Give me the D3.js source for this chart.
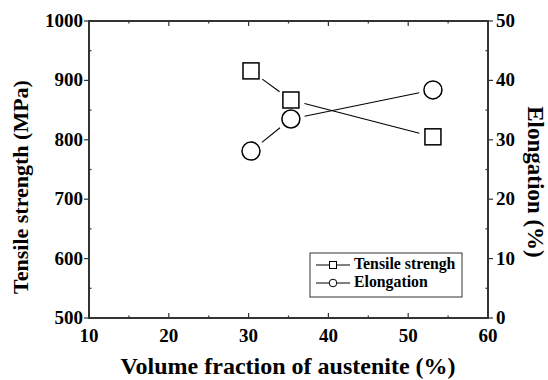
<!DOCTYPE html>
<html>
<head>
<meta charset="utf-8">
<script src="https://cdn.jsdelivr.net/npm/d3@7"></script>
<style>
  body { margin: 0; background: #fff; }
</style>
</head>
<body>
<script>
const fraction = [30.3, 35.3, 53.1];
const tensile = [916, 867, 805];
const elongation = [28.1, 33.5, 38.4];
const xTicks = [10, 20, 30, 40, 50, 60];
const yLeftTicks = [500, 600, 700, 800, 900, 1000];
const yRightTicks = [0, 10, 20, 30, 40, 50];

const w = 548, h = 380;
const pLeft = 89, pRight = 488, pTop = 21, pBottom = 318;
const FONT = '"Liberation Serif", "Times New Roman", Times, serif';

const svg = d3.select('body').append('svg')
  .attr('width', w).attr('height', h)
  .attr('font-family', FONT).attr('font-weight', 700);

const x = d3.scaleLinear().domain([10, 60]).range([pLeft, pRight]);
const yL = d3.scaleLinear().domain([500, 1000]).range([pBottom, pTop]);
const yR = d3.scaleLinear().domain([0, 50]).range([pBottom, pTop]);

// minor ticks (inside, short)
const minorX = d3.range(15, 60, 10);
const minorY = d3.range(550, 1000, 100);
const minorYR = d3.range(5, 50, 10);
const tick = svg.append('g').attr('stroke', '#333').attr('stroke-width', 1.2);
minorX.forEach(v => {
  tick.append('line').attr('x1', x(v)).attr('x2', x(v)).attr('y1', pBottom).attr('y2', pBottom - 2.5);
  tick.append('line').attr('x1', x(v)).attr('x2', x(v)).attr('y1', pTop).attr('y2', pTop + 2.5);
});
minorY.forEach(v => tick.append('line').attr('x1', pLeft).attr('x2', pLeft + 2.5).attr('y1', yL(v)).attr('y2', yL(v)));
minorYR.forEach(v => tick.append('line').attr('x1', pRight).attr('x2', pRight - 2.5).attr('y1', yR(v)).attr('y2', yR(v)));

// major ticks
xTicks.forEach(v => {
  tick.append('line').attr('x1', x(v)).attr('x2', x(v)).attr('y1', pBottom).attr('y2', pBottom - 5);
  tick.append('line').attr('x1', x(v)).attr('x2', x(v)).attr('y1', pTop).attr('y2', pTop + 5);
});
yLeftTicks.forEach(v => tick.append('line').attr('x1', pLeft - 5).attr('x2', pLeft).attr('y1', yL(v)).attr('y2', yL(v)));
yRightTicks.forEach(v => tick.append('line').attr('x1', pRight).attr('x2', pRight + 5).attr('y1', yR(v)).attr('y2', yR(v)));

// frame
svg.append('rect')
  .attr('x', pLeft).attr('y', pTop)
  .attr('width', pRight - pLeft).attr('height', pBottom - pTop)
  .attr('fill', 'none').attr('stroke', '#333').attr('stroke-width', 2);

// tick labels
svg.append('g').selectAll('text').data(xTicks).enter().append('text')
  .attr('x', d => x(d)).attr('y', pBottom + 24)
  .attr('text-anchor', 'middle').attr('font-size', 19)
  .text(d => d);
svg.append('g').selectAll('text').data(yLeftTicks).enter().append('text')
  .attr('x', pLeft - 6).attr('y', d => yL(d) + 6)
  .attr('text-anchor', 'end').attr('font-size', 19)
  .text(d => d);
svg.append('g').selectAll('text').data(yRightTicks).enter().append('text')
  .attr('x', pRight + 8).attr('y', d => yR(d) + 6)
  .attr('text-anchor', 'start').attr('font-size', 19)
  .text(d => d);

// axis titles
svg.append('text')
  .attr('x', 288).attr('y', 374)
  .attr('text-anchor', 'middle').attr('font-size', 24)
  .text('Volume fraction of austenite (%)');
svg.append('text')
  .attr('transform', 'translate(28,187) rotate(-90)')
  .attr('text-anchor', 'middle').attr('font-size', 22)
  .text('Tensile strength (MPa)');
svg.append('text')
  .attr('transform', 'translate(528,182) rotate(90)')
  .attr('text-anchor', 'middle').attr('font-size', 23)
  .text('Elongation (%)');

// series lines with gaps near markers
function gapLines(pts, gap) {
  const g = svg.append('g').attr('stroke', '#000').attr('stroke-width', 1.1);
  for (let i = 0; i < pts.length - 1; i++) {
    const [x1, y1] = pts[i], [x2, y2] = pts[i + 1];
    const len = Math.hypot(x2 - x1, y2 - y1);
    const ux = (x2 - x1) / len, uy = (y2 - y1) / len;
    g.append('line')
      .attr('x1', x1 + ux * gap).attr('y1', y1 + uy * gap)
      .attr('x2', x2 - ux * gap).attr('y2', y2 - uy * gap);
  }
}
const tsPts = fraction.map((f, i) => [x(f), yL(tensile[i])]);
const elPts = fraction.map((f, i) => [x(f), yR(elongation[i])]);
gapLines(tsPts, 14);
gapLines(elPts, 14);

svg.append('g').selectAll('rect').data(tsPts).enter().append('rect')
  .attr('x', d => d[0] - 8).attr('y', d => d[1] - 8)
  .attr('width', 16).attr('height', 16)
  .attr('fill', 'none').attr('stroke', '#000').attr('stroke-width', 1.5);
svg.append('g').selectAll('circle').data(elPts).enter().append('circle')
  .attr('cx', d => d[0]).attr('cy', d => d[1]).attr('r', 9)
  .attr('fill', 'none').attr('stroke', '#000').attr('stroke-width', 1.5);

// legend
const lg = svg.append('g');
lg.append('rect').attr('x', 310).attr('y', 253).attr('width', 152).attr('height', 44)
  .attr('fill', '#fff').attr('stroke', '#333').attr('stroke-width', 1);
const legendRows = [
  { name: 'Tensile strengh', shape: 'square', y: 265 },
  { name: 'Elongation', shape: 'circle', y: 283 }
];
legendRows.forEach(r => {
  lg.append('line').attr('x1', 316).attr('x2', 350).attr('y1', r.y).attr('y2', r.y)
    .attr('stroke', '#000').attr('stroke-width', 1);
  if (r.shape === 'square') {
    lg.append('rect').attr('x', 329.5).attr('y', r.y - 3.5).attr('width', 7).attr('height', 7)
      .attr('fill', '#fff').attr('stroke', '#000').attr('stroke-width', 1);
  } else {
    lg.append('circle').attr('cx', 333).attr('cy', r.y).attr('r', 3.8)
      .attr('fill', '#fff').attr('stroke', '#000').attr('stroke-width', 1);
  }
  lg.append('text').attr('x', 354).attr('y', r.y + 4)
    .attr('font-size', 15.8).text(r.name);
});
</script>
</body>
</html>
